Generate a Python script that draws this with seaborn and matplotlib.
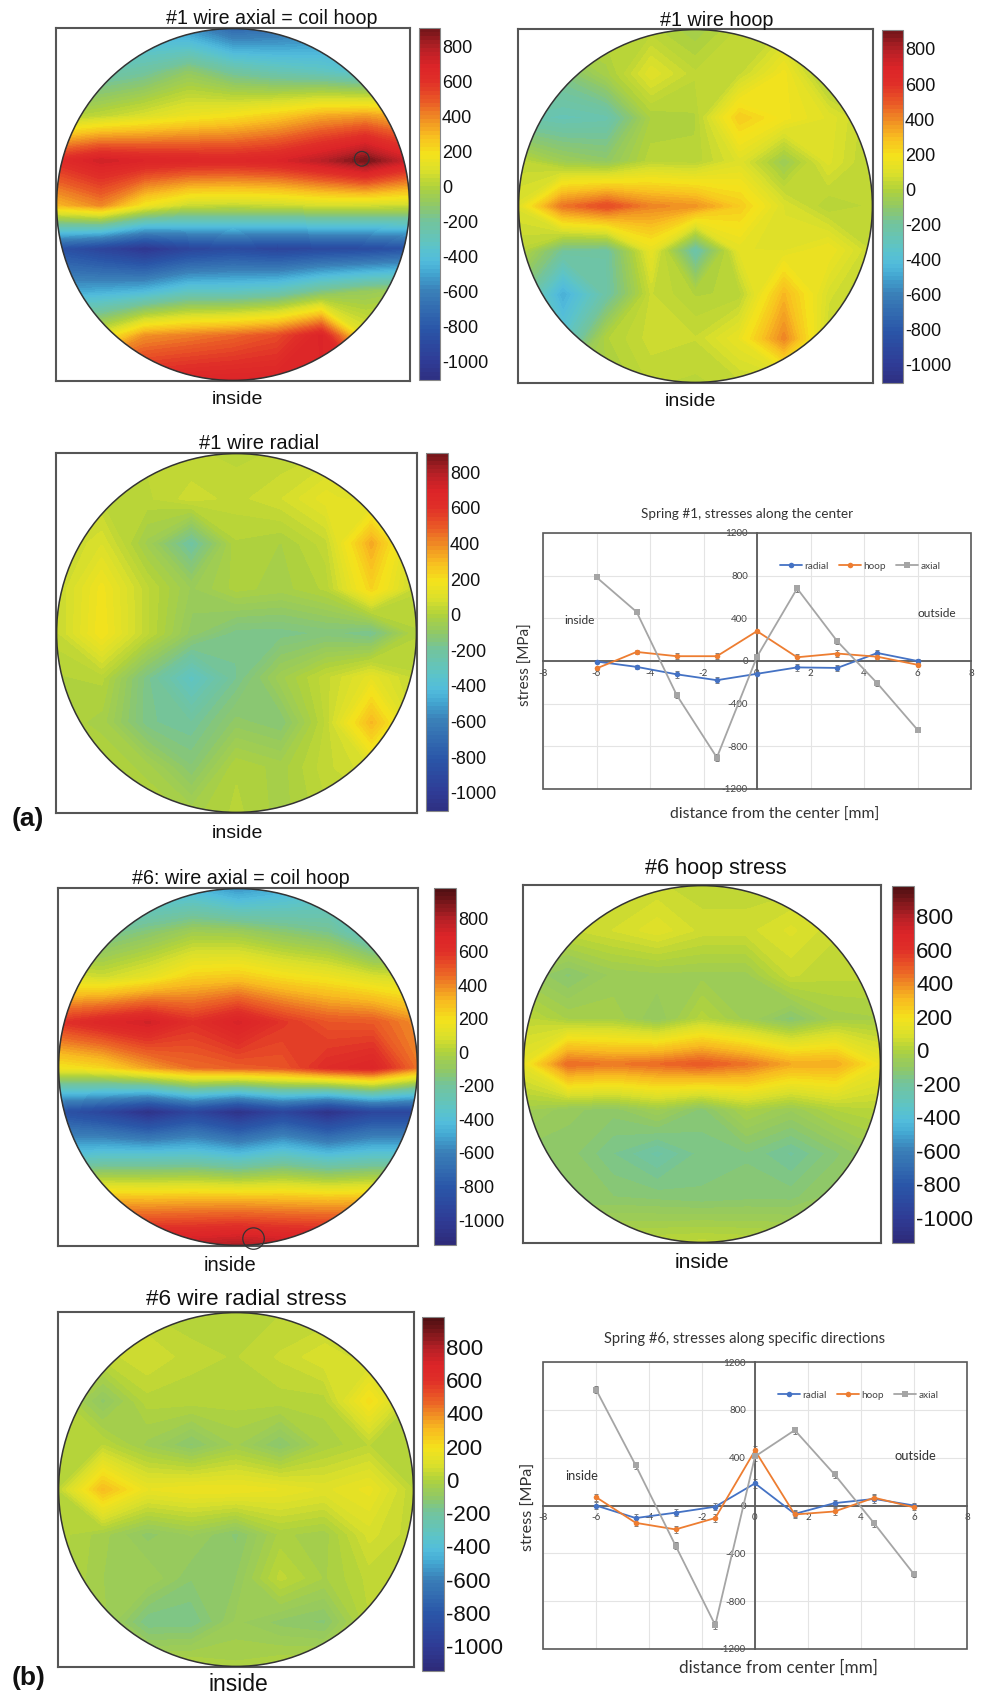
import numpy as np
import pandas as pd
import matplotlib
matplotlib.use("Agg")
import matplotlib.pyplot as plt
import seaborn as sns
from matplotlib.colors import LinearSegmentedColormap, Normalize
from matplotlib.patches import Circle, Rectangle

W, H = 989, 1696

# measurement grid, mm
grid_pos = [-6, -4.5, -3, -1.5, 0, 1.5, 3, 4.5, 6]
cbar_ticks = [-1000, -800, -600, -400, -200, 0, 200, 400, 600, 800]

# stress maps in MPa, rows go from top of the section (y=6) to "inside" (y=-6)
s1_axial = [
    [-500, -500, -500, -560, -720, -680, -620, -520, -500],
    [-300, -260, -210, -100, -210, -270, -310, -380, -380],
    [-20, 30, 90, 150, 190, 250, 330, 360, 300],
    [620, 720, 680, 660, 650, 680, 770, 900, 720],
    [300, 400, 170, 50, 40, 50, 80, 70, 60],
    [-850, -950, -1060, -950, -900, -950, -920, -900, -850],
    [-500, -470, -430, -320, -320, -280, -160, -80, -40],
    [100, 120, 380, 420, 460, 520, 690, 120, 100],
    [660, 660, 660, 680, 690, 690, 680, 660, 660],
]
s1_hoop = [
    [20, 20, 20, 10, -40, 30, 50, 0, 0],
    [-100, -150, -30, 110, 30, 40, 170, -50, -100],
    [-250, -280, -260, -20, 0, 250, 170, 110, 20],
    [30, -60, -100, 20, 10, 100, -70, 100, 10],
    [100, 430, 520, 400, 370, 250, 90, 0, 30],
    [20, -200, -220, 130, -260, 120, 110, 160, 40],
    [-150, -480, -230, 50, 0, 10, 300, 80, 0],
    [-100, -350, 0, 60, 50, 140, 400, 40, 0],
    [-50, -50, -30, 30, 20, 40, 40, 30, 20],
]
s1_radial = [
    [20, 30, 30, 30, 20, 30, 50, 30, 30],
    [20, 20, 20, 60, 40, 70, 130, 80, 40],
    [30, 90, -50, -220, 0, -20, 40, 330, 40],
    [40, 170, 30, -70, -10, -30, 10, 230, 30],
    [40, 180, 30, -100, -170, -170, -150, -190, 0],
    [0, 10, -170, -330, -180, -50, 40, 130, 30],
    [0, -30, -170, -200, -100, -130, 30, 300, 50],
    [20, 10, -30, -130, 0, -30, 40, 90, 30],
    [20, 20, 10, -30, 10, -30, 20, 30, 30],
]
s6_axial = [
    [-450, -450, -450, -450, -560, -480, -400, -400, -400],
    [-250, -200, -130, -50, -60, -120, -170, -350, -350],
    [100, 60, 130, 240, 260, 200, 160, 90, 60],
    [580, 660, 720, 600, 700, 580, 500, 490, 380],
    [170, 220, 350, 450, 480, 500, 620, 670, 430],
    [-850, -950, -1100, -950, -1100, -950, -1100, -950, -950],
    [-400, -350, -350, -340, -400, -320, -400, -350, -350],
    [320, 320, 310, 320, 320, 310, 300, 310, 310],
    [760, 760, 760, 770, 800, 770, 760, 760, 760],
]
s6_hoop = [
    [30, 30, 30, 50, 30, 30, 30, 30, 30],
    [30, 40, 70, 110, 60, 60, 100, 50, 30],
    [-70, -130, -70, -60, -60, -60, 50, 30, 30],
    [30, -30, -30, -100, 10, -60, -140, -40, -30],
    [130, 450, 420, 450, 490, 430, 330, 330, 150],
    [-40, -90, -110, -50, -130, -20, -70, 0, 20],
    [-110, -110, -170, -230, -160, -150, -200, -130, -60],
    [-60, -120, -120, -130, -140, -130, -130, -80, -50],
    [10, 10, 10, 20, 30, 20, 10, 10, 10],
]
s6_radial = [
    [20, 20, 20, 10, 20, 20, 20, 20, 20],
    [30, 30, 70, 30, 20, 50, 90, 50, 30],
    [10, -110, 10, 10, 10, 10, 10, 200, 10],
    [0, 20, -60, -130, -50, -130, -20, 20, 10],
    [20, 290, 140, 160, 160, 140, 110, 150, 20],
    [10, -40, -110, -70, -130, -20, -40, 80, 30],
    [10, -50, -50, -120, -100, 30, -30, 30, 30],
    [10, -40, -170, -170, -70, -110, -130, 20, 20],
    [10, 10, 0, 10, -20, 0, 10, 20, 20],
]

# line profiles along the center
line_x = [-6, -4.5, -3, -1.5, 0, 1.5, 3, 4.5, 6]
s1_line_radial = [-5, -55, -125, -180, -120, -60, -65, 75, 0]
s1_line_hoop = [-70, 85, 45, 45, 280, 35, 70, 40, -35]
s1_line_axial = [785, 460, -320, -905, 40, 680, 185, -210, -645]
s1_err = [12, 20, 30, 30, 15, 35, 30, 25, 15]
s6_line_radial = [0, -105, -60, -10, 185, -70, 20, 55, 0]
s6_line_hoop = [70, -145, -200, -105, 460, -75, -50, 65, -15]
s6_line_axial = [970, 335, -335, -1000, 410, 630, 260, -150, -575]
s6_err = [30, 30, 30, 30, 35, 30, 30, 30, 25]

sns.set_theme(style="white")
plt.rcParams["font.family"] = ["Liberation Sans", "DejaVu Sans"]
plt.rcParams["axes.linewidth"] = 1.0
plt.rcParams["axes.unicode_minus"] = False

cmap = LinearSegmentedColormap.from_list("stress", [
    (0.00, "#2e2a78"), (0.07, "#2f3c96"), (0.16, "#2a56a8"), (0.26, "#3a80b8"),
    (0.31, "#44a8d2"), (0.34, "#52bcdc"), (0.38, "#5cc4c8"), (0.45, "#74c49a"),
    (0.49, "#8fc868"), (0.54, "#b0d23c"), (0.585, "#dde02a"), (0.63, "#f4e21c"),
    (0.68, "#f8bc20"), (0.725, "#f08c24"), (0.77, "#ea5a26"), (0.82, "#e03028"),
    (0.865, "#dc2428"), (0.915, "#b52026"), (0.97, "#6a1418"), (1.00, "#4e0f12"),
])
norm = Normalize(-1150, 980)

fig = plt.figure(figsize=(W / 100, H / 100), dpi=100)


def px_axes(l, t, r, b):
    return fig.add_axes([l / W, 1 - b / H, (r - l) / W, (b - t) / H])


def px_text(x, y, s, **kw):
    fig.text(x / W, 1 - (y + 1.5) / H, s, ha="center", va="center", **kw)


def stress_map(z, box, cbox, lo, hi, title, title_xy, title_fs, inside_xy, inside_fs, tick_fs):
    ax = px_axes(*box)
    levels = np.linspace(lo, hi, 90)
    cs = ax.contourf(grid_pos, grid_pos, np.array(z)[::-1], levels=levels, cmap=cmap, norm=norm)
    cs.set_edgecolor("face")
    circ = Circle((0, 0), 6, fc="none", ec="#333333", lw=1.1, zorder=5)
    ax.add_patch(circ)
    cs.set_clip_path(circ)
    ax.set_xlim(-6.02, 6.02)
    ax.set_ylim(-6.02, 6.02)
    ax.set_xticks([])
    ax.set_yticks([])
    for sp in ax.spines.values():
        sp.set_color("#555555")
        sp.set_linewidth(1.5)

    cax = px_axes(*cbox)
    cb = fig.colorbar(cs, cax=cax)
    cb.set_ticks(cbar_ticks)
    cb.ax.tick_params(labelsize=tick_fs, length=3, width=0.8, direction="in", pad=1.5,
                      right=True, colors="#111111")
    cb.outline.set_edgecolor("#888888")
    cb.outline.set_linewidth(0.8)
    px_text(*title_xy, title, fontsize=title_fs, color="#111111")
    px_text(*inside_xy, "inside", fontsize=inside_fs, color="#111111")
    return ax


ax1 = stress_map(s1_axial, (56, 28, 410, 381), (419, 28, 440, 380), -1103, 908,
                 "#1 wire axial = coil hoop", (272, 17), 14.1, (237, 398), 14, 13)
stress_map(s1_hoop, (518, 29, 873, 383), (882, 30, 903, 383), -1103, 908,
           "#1 wire hoop", (717, 19), 14.2, (690, 400), 14, 13)
stress_map(s1_radial, (56, 453, 417, 813), (426, 453, 448, 811), -1103, 908,
           "#1 wire radial", (259, 442), 14.5, (237, 832), 14, 13)
ax4 = stress_map(s6_axial, (58, 888, 418, 1246), (434, 888, 456, 1245), -1149, 979,
                 "#6: wire axial = coil hoop", (241, 877), 14.2, (230, 1264), 14.5, 13)
stress_map(s6_hoop, (523, 885, 881, 1243), (892, 886, 914, 1243), -1149, 979,
           "#6 hoop stress", (716, 867), 15.6, (702, 1261), 15, 16)
stress_map(s6_radial, (58, 1312, 414, 1667), (422, 1317, 444, 1671), -1149, 979,
           "#6 wire radial stress", (246, 1298), 16.2, (238, 1683), 16.5, 16)

# the two marked spots
ax1.add_patch(Circle((4.38, 1.56), 0.25, fc="none", ec="#333333", lw=0.9, zorder=6))
ax4.add_patch(Circle((0.52, -5.77), 0.36, fc="none", ec="#333333", lw=0.9, zorder=6, clip_on=False))

px_text(28, 817, "(a)", fontsize=19, fontweight="bold", color="#111111")
px_text(29, 1677, "(b)", fontsize=19, fontweight="bold", color="#111111")

line_palette = {"radial": "#4472c4", "hoop": "#ed7d31", "axial": "#a5a5a5"}
line_markers = {"radial": "o", "hoop": "o", "axial": "s"}


def profile(radial, hoop, axial, err, box, title, title_xy, title_fs, xlabel, xlabel_xy, xlabel_fs,
            ylabel_xy, ylabel_fs, inside_xy, outside_xy, note_fs, legend_xy):
    ax = px_axes(*box)
    df = pd.DataFrame({
        "x": line_x * 3,
        "stress": radial + hoop + axial,
        "kind": ["radial"] * 9 + ["hoop"] * 9 + ["axial"] * 9,
    })
    for vals in [radial, hoop, axial]:
        ax.errorbar(line_x, vals, yerr=err, fmt="none", ecolor="#7f7f7f", elinewidth=0.7,
                    capsize=1.5, capthick=0.7, zorder=2)
    sns.lineplot(data=df, x="x", y="stress", hue="kind", style="kind", ax=ax, sort=False,
                 palette=line_palette, markers=line_markers, dashes=False, lw=1.3,
                 markersize=4, markeredgewidth=0, errorbar=None, zorder=3)
    handles, labels = ax.get_legend_handles_labels()
    ax.legend(handles, labels, ncol=3, frameon=False, loc="center", bbox_to_anchor=legend_xy,
              handlelength=2.2, handletextpad=0.25, columnspacing=1.0,
              labelcolor="#444444", prop={"family": "Lato", "size": 7.2})
    ax.set_xlim(-8, 8)
    ax.set_ylim(-1200, 1200)
    ax.set_xticks(range(-8, 9, 2))
    ax.set_yticks(range(-1200, 1201, 400))
    ax.grid(True, color="#e4e4e4", lw=0.8)
    ax.set_axisbelow(True)
    ax.set_xlabel("")
    ax.set_ylabel("")
    ax.spines["left"].set_position(("data", 0))
    ax.spines["bottom"].set_position(("data", 0))
    ax.spines["right"].set_visible(False)
    ax.spines["top"].set_visible(False)
    for side in ["left", "bottom"]:
        ax.spines[side].set_color("#595959")
        ax.spines[side].set_linewidth(1.3)
        ax.spines[side].set_zorder(2.5)
    ax.add_patch(Rectangle((0, 0), 1, 1, transform=ax.transAxes, fc="none", ec="#595959",
                           lw=1.2, clip_on=False, zorder=4))
    ax.tick_params(axis="x", length=0, pad=5.5, labelsize=7, colors="#444444")
    ax.tick_params(axis="y", length=0, pad=6.5, labelsize=7, colors="#444444")
    for lab in ax.get_xticklabels() + ax.get_yticklabels():
        lab.set_family("Lato")
    px_text(*title_xy, title, fontsize=title_fs, color="#333333", family="Lato")
    px_text(*xlabel_xy, xlabel, fontsize=xlabel_fs, color="#333333", family="Lato")
    px_text(*ylabel_xy, "stress [MPa]", fontsize=ylabel_fs, color="#333333", family="Lato", rotation=90)
    px_text(*inside_xy, "inside", fontsize=note_fs, color="#333333", family="Lato")
    px_text(*outside_xy, "outside", fontsize=note_fs, color="#333333", family="Lato")


profile(s1_line_radial, s1_line_hoop, s1_line_axial, s1_err, (543, 533, 971, 789),
        "Spring #1, stresses along the center", (747, 513), 9.7,
        "distance from the center [mm]", (775, 813), 11.3, (526, 663), 10.9,
        (580, 619), (937, 612), 8.6, (0.741, 0.871))
profile(s6_line_radial, s6_line_hoop, s6_line_axial, s6_err, (543, 1362, 967, 1649),
        "Spring #6, stresses along specific directions", (745, 1338), 10.6,
        "distance from center [mm]", (778, 1666), 12.3, (529, 1505), 11.7,
        (582, 1475), (915, 1455), 9.3, (0.743, 0.885))

fig.savefig("out.png", dpi=100)
